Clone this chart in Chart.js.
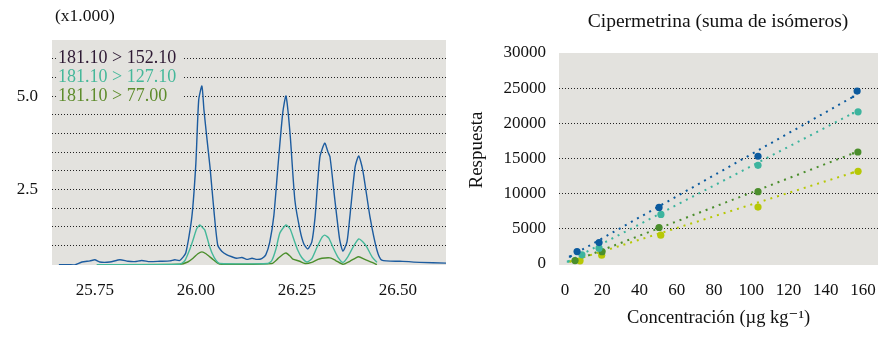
<!DOCTYPE html>
<html>
<head>
  <meta charset="utf-8">
  <title>Cipermetrina</title>
  <script src="https://cdn.jsdelivr.net/npm/chart.js"></script>
  <style>
    body { margin: 0; background: #fff; }
    #wrap { position: relative; width: 895px; height: 346px; }
    canvas { position: absolute; left: 0; top: 0; }
  </style>
</head>
<body>
<div id="wrap">
  <canvas id="chromChart" width="895" height="346"></canvas>
  <canvas id="calChart" width="895" height="346"></canvas>
</div>
<script>
  // --- chromatogram (intensity x1.000) ---
  const rtBlue = [25.661, 25.683, 25.700, 25.718, 25.738, 25.750, 25.762, 25.787, 25.812, 25.832, 25.849, 25.866, 25.886, 25.911, 25.936, 25.948, 25.960, 25.975, 25.990, 26.000, 26.007, 26.015, 26.020, 26.027, 26.035, 26.045, 26.054, 26.064, 26.077, 26.089, 26.101, 26.114, 26.126, 26.139, 26.151, 26.163, 26.173, 26.183, 26.193, 26.203, 26.215, 26.223, 26.233, 26.245, 26.258, 26.267, 26.277, 26.287, 26.295, 26.307, 26.319, 26.327, 26.332, 26.344, 26.356, 26.364, 26.374, 26.381, 26.394, 26.403, 26.413, 26.431, 26.448, 26.460, 26.505, 26.554, 26.619];
  const intBlue = [0.49, 0.49, 0.48, 0.56, 0.59, 0.62, 0.56, 0.56, 0.62, 0.58, 0.57, 0.60, 0.57, 0.58, 0.59, 0.62, 0.60, 0.80, 1.76, 3.20, 4.89, 5.27, 4.63, 3.90, 3.10, 1.90, 1.02, 0.85, 0.75, 0.70, 0.66, 0.68, 0.63, 0.66, 0.63, 0.65, 0.75, 1.10, 1.80, 3.10, 4.55, 5.00, 4.01, 2.22, 1.40, 1.05, 0.91, 1.10, 1.76, 3.37, 3.74, 3.50, 3.37, 2.22, 1.15, 0.85, 1.10, 1.76, 3.10, 3.40, 3.02, 1.76, 0.88, 0.61, 0.58, 0.55, 0.53];

  const rtTeal = [25.755, 25.960, 25.973, 25.985, 25.993, 26.002, 26.010, 26.015, 26.022, 26.032, 26.040, 26.050, 26.059, 26.178, 26.188, 26.198, 26.208, 26.223, 26.233, 26.243, 26.252, 26.262, 26.275, 26.287, 26.300, 26.312, 26.319, 26.329, 26.339, 26.351, 26.364, 26.376, 26.389, 26.403, 26.413, 26.423, 26.436, 26.448];
  const intTeal = [0.49, 0.50, 0.60, 0.90, 1.15, 1.45, 1.55, 1.50, 1.42, 1.05, 0.80, 0.60, 0.52, 0.52, 0.60, 0.90, 1.34, 1.55, 1.45, 1.15, 0.88, 0.68, 0.56, 0.65, 0.96, 1.22, 1.28, 1.20, 0.96, 0.70, 0.55, 0.70, 0.96, 1.18, 1.10, 0.96, 0.70, 0.55];

  const rtGreen = [25.755, 25.960, 25.980, 25.993, 26.005, 26.015, 26.025, 26.040, 26.054, 26.064, 26.188, 26.203, 26.215, 26.223, 26.233, 26.240, 26.257, 26.270, 26.287, 26.302, 26.312, 26.332, 26.346, 26.364, 26.381, 26.394, 26.403, 26.418, 26.436, 26.448];
  const intGreen = [0.49, 0.50, 0.56, 0.66, 0.78, 0.83, 0.78, 0.65, 0.53, 0.50, 0.52, 0.65, 0.76, 0.80, 0.72, 0.64, 0.58, 0.52, 0.55, 0.63, 0.66, 0.67, 0.60, 0.50, 0.58, 0.66, 0.70, 0.63, 0.55, 0.49];

  const transitions = ['181.10 > 152.10', '181.10 > 127.10', '181.10 > 77.00'];
  const rtTicks = [25.75, 26.00, 26.25, 26.50];
  const intGrid = [1.0, 1.5, 2.0, 2.5, 3.0, 3.5, 4.0, 4.5, 5.0, 5.5, 6.0];
  const intLabels = [2.5, 5.0];

  // --- calibration: Cipermetrina (suma de isómeros) ---
  const concBlue = [6.5, 18.3, 50.5, 103.6, 156.8];
  const respBlue = [1710, 3000, 8000, 15290, 24570];
  const concTeal = [9.1, 18.3, 51.5, 103.6, 157.3];
  const respTeal = [1250, 2200, 7000, 14000, 21620];
  const concGreen = [5.4, 19.9, 50.5, 103.6, 157.2];
  const respGreen = [430, 1700, 5140, 10240, 15900];
  const concYellow = [8.1, 19.7, 51.4, 103.6, 157.3];
  const respYellow = [400, 1190, 4050, 8050, 13150];

  // dotted fit lines, start and end
  const fitConcBlue = [2.7, 154.6], fitBlue = [1000, 23760];
  const fitConcTeal = [1.6, 154.6], fitTeal = [290, 21430];
  const fitConcGreen = [5.4, 154.6], fitGreen = [430, 15700];
  const fitConcYellow = [2.7, 154.6], fitYellow = [290, 12960];

  const concTicks = [0, 20, 40, 60, 80, 100, 120, 140, 160];
  const respTicks = [0, 5000, 10000, 15000, 20000, 25000, 30000];

  const plotBg = '#e3e2de';
  const serif = '"Liberation Serif", "DejaVu Serif", serif';
  const tickFont = { family: serif, size: 17 };
  const cBlue = '#0b5a9e', cTeal = '#3db49e', cGreen = '#4b8e2c', cYellow = '#b7c805';
  const legendColors = ['#2e1a34', '#45b89a', '#5e8c2c'];

  const pts = (xs, ys) => xs.map((x, i) => ({ x, y: ys[i] }));

  const bgPlugin = {
    id: 'plotBg',
    beforeDraw(chart) {
      const { ctx, chartArea: a } = chart;
      ctx.save();
      ctx.fillStyle = plotBg;
      ctx.fillRect(a.left, a.top, a.right - a.left, a.bottom - a.top);
      ctx.restore();
    }
  };

  const chromText = {
    id: 'chromText',
    afterDraw(chart) {
      const { ctx, chartArea: a } = chart;
      ctx.save();
      ctx.font = '17.5px ' + serif;
      ctx.textBaseline = 'middle';
      ctx.fillStyle = '#111';
      ctx.fillText('(x1.000)', 55, 16);
      ctx.font = '18px ' + serif;
      transitions.forEach((t, i) => {
        const y = a.top + 18 + i * 19;
        ctx.fillStyle = plotBg;
        ctx.fillRect(a.left + 4, y - 9, 126, 18);
        ctx.fillStyle = legendColors[i];
        ctx.fillText(t, a.left + 6, y);
      });
      ctx.restore();
    }
  };

  const calText = {
    id: 'calText',
    afterDraw(chart) {
      const { ctx, chartArea: a } = chart;
      ctx.save();
      ctx.fillStyle = '#111';
      ctx.textAlign = 'center';
      ctx.textBaseline = 'middle';
      ctx.font = '19.5px ' + serif;
      ctx.fillText('Cipermetrina (suma de isómeros)', 718, 22);
      ctx.font = '19px ' + serif;
      ctx.translate(477, 150);
      ctx.rotate(-Math.PI / 2);
      ctx.fillText('Respuesta', 0, 0);
      ctx.restore();
    }
  };

  new Chart(document.getElementById('chromChart'), {
    type: 'line',
    data: {
      datasets: [
        { data: pts(rtBlue, intBlue), borderColor: '#1d5c9f', borderWidth: 1.4, pointRadius: 0, tension: 0.2 },
        { data: pts(rtTeal, intTeal), borderColor: '#45b89a', borderWidth: 1.4, pointRadius: 0, tension: 0.2 },
        { data: pts(rtGreen, intGreen), borderColor: '#4b8e2c', borderWidth: 1.4, pointRadius: 0, tension: 0.2 }
      ]
    },
    options: {
      responsive: false,
      animation: false,
      devicePixelRatio: 1,
      layout: { padding: { left: 0, top: 40, right: 449, bottom: 41 } },
      plugins: { legend: { display: false }, tooltip: { enabled: false } },
      scales: {
        x: {
          type: 'linear', min: 25.644, max: 26.619,
          afterBuildTicks: s => { s.ticks = rtTicks.map(v => ({ value: v })); },
          afterFit: s => { s.height = 40; },
          grid: { display: false },
          border: { display: false },
          ticks: { padding: 7, color: '#111', font: tickFont, autoSkip: false, maxRotation: 0,
                   callback: v => v.toFixed(2) }
        },
        y: {
          min: 0.48, max: 6.5,
          afterBuildTicks: s => { s.ticks = intGrid.map(v => ({ value: v })); },
          afterFit: s => { s.width = 52; },
          grid: { color: '#222', lineWidth: 1, drawTicks: false },
          border: { display: false, dash: [1, 2] },
          ticks: { padding: 14, color: '#111', font: tickFont, autoSkip: false,
                   callback: v => intLabels.includes(v) ? v.toFixed(1) : '' }
        }
      }
    },
    plugins: [bgPlugin, chromText]
  });

  const fitLine = (xs, ys, color) => ({
    type: 'line', data: pts(xs, ys), showLine: true, borderColor: color, borderWidth: 2,
    borderDash: [2, 5], pointRadius: 1.6, pointStyle: 'rect', pointBackgroundColor: color,
    pointBorderWidth: 0, fill: false, order: 2
  });
  const dots = (xs, ys, color) => ({
    type: 'scatter', data: pts(xs, ys), pointRadius: 3.6, pointBackgroundColor: color,
    pointBorderWidth: 0, order: 1
  });

  new Chart(document.getElementById('calChart'), {
    type: 'scatter',
    data: {
      datasets: [
        fitLine(fitConcBlue, fitBlue, cBlue),
        fitLine(fitConcTeal, fitTeal, cTeal),
        fitLine(fitConcGreen, fitGreen, cGreen),
        fitLine(fitConcYellow, fitYellow, cYellow),
        dots(concBlue, respBlue, cBlue),
        dots(concTeal, respTeal, cTeal),
        dots(concGreen, respGreen, cGreen),
        dots(concYellow, respYellow, cYellow)
      ]
    },
    options: {
      responsive: false,
      animation: false,
      devicePixelRatio: 1,
      layout: { padding: { left: 440, top: 53, right: 17, bottom: 11 } },
      plugins: { legend: { display: false }, tooltip: { enabled: false } },
      scales: {
        x: {
          type: 'linear', min: -3.2, max: 168,
          afterBuildTicks: s => { s.ticks = concTicks.map(v => ({ value: v })); },
          afterFit: s => { s.height = 70; },
          grid: { display: false },
          border: { display: false },
          ticks: { padding: 7, color: '#111', font: tickFont, autoSkip: false, maxRotation: 0,
                   callback: v => String(v) },
          title: { display: true, text: 'Concentración (µg kg⁻¹)', color: '#111',
                   font: { family: serif, size: 18.5 }, padding: { top: 0, bottom: 6 } }
        },
        y: {
          min: -200, max: 30000,
          afterBuildTicks: s => { s.ticks = respTicks.map(v => ({ value: v })); },
          afterFit: s => { s.width = 119; },
          grid: { color: c => (c.tick && c.tick.value > 0 && c.tick.value < 30000) ? '#222' : 'rgba(0,0,0,0)',
                  lineWidth: 1, drawTicks: false },
          border: { display: false, dash: [1, 2] },
          ticks: { padding: 13, color: '#111', font: tickFont, autoSkip: false,
                   callback: v => String(v) }
        }
      }
    },
    plugins: [bgPlugin, calText]
  });
</script>
</body>
</html>
